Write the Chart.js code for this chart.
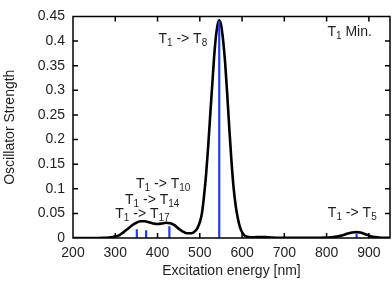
<!DOCTYPE html>
<html>
<head>
<meta charset="utf-8">
<script src="https://cdn.jsdelivr.net/npm/chart.js@4.4.0/dist/chart.umd.min.js"></script>
<style>
  html, body { margin: 0; padding: 0; background: #fff; }
</style>
</head>
<body>
<canvas id="c" width="392" height="282"></canvas>
<script>
// broadened spectrum
var energy = [200, 210, 220, 230, 240, 250, 260, 270, 280, 290,
    300, 310, 320, 330, 340, 350, 360, 370, 380, 390,
    400, 410, 420, 430, 440, 450, 460, 470, 480, 490,
    495, 500, 505, 510, 515, 520, 525, 530, 535, 540,
    545, 550, 555, 560, 565, 570, 575, 580, 585, 590,
    595, 600, 605, 610, 620, 630, 640, 650, 660, 670,
    680, 700, 720, 740, 760, 780, 800, 810, 820, 830,
    840, 850, 860, 870, 880, 890, 900, 910, 920, 930, 940, 950];
var strength = [0, 0, 0, 0, 0, 0, 0, 0.0002, 0.0006, 0.0015,
    0.003, 0.006, 0.012, 0.019, 0.026, 0.031, 0.034, 0.034, 0.032, 0.0295,
    0.0285, 0.0295, 0.031, 0.030, 0.026, 0.019, 0.013, 0.0095, 0.0095, 0.015,
    0.021, 0.032, 0.05, 0.085, 0.13, 0.188, 0.254, 0.318, 0.38, 0.422,
    0.442, 0.434, 0.403, 0.355, 0.29, 0.22, 0.155, 0.102, 0.065, 0.04,
    0.022, 0.012, 0.006, 0.003, 0.0012, 0.0015, 0.002, 0.002, 0.0015, 0.001,
    0.0006, 0.0004, 0.0003, 0.0003, 0.0004, 0.0006, 0.001, 0.0015, 0.0025, 0.004,
    0.006, 0.009, 0.011, 0.012, 0.011, 0.008, 0.005, 0.0025, 0.0012, 0.0006, 0.0003, 0.0002];

// transitions (sticks)
var stickNm = [351, 373, 428, 546, 871];
var stickF = [0.018, 0.0155, 0.024, 0.44, 0.008];

// labels: T1 -> Tn
var noteTo = [8, 10, 14, 17, 5];
var noteX = [402, 349, 323, 300, 803];
var noteY = [0.396, 0.1015, 0.07, 0.041, 0.0425];

var curve = energy.map(function(e, i){ return {x: e, y: strength[i]}; });
var sticks = [];
stickNm.forEach(function(e, i){
    sticks.push({x: e, y: 0}, {x: e, y: stickF[i]}, {x: e, y: null});
});

var FONT = "'Liberation Sans', Arial, sans-serif";
var INK = '#1e1e1e';

function subText(ctx, x, y, parts) {
    // parts: [text, isSub]
    parts.forEach(function(p){
        ctx.font = (p[1] ? 10 : 14) + 'px ' + FONT;
        ctx.fillText(p[0], x, y + (p[1] ? 3 : 0));
        x += ctx.measureText(p[0]).width;
    });
}

var framePlugin = {
    id: 'frame',
    afterDraw: function(chart) {
        var ctx = chart.ctx, a = chart.chartArea;
        var xs = chart.scales.x, ys = chart.scales.y;
        ctx.save();
        ctx.strokeStyle = '#000';
        ctx.lineWidth = 1.5;
        ctx.beginPath();
        ctx.rect(a.left, a.top, a.right - a.left, a.bottom - a.top);
        xs.ticks.forEach(function(t){
            var px = xs.getPixelForValue(t.value);
            ctx.moveTo(px, a.bottom); ctx.lineTo(px, a.bottom - 5);
            ctx.moveTo(px, a.top); ctx.lineTo(px, a.top + 5);
        });
        ys.ticks.forEach(function(t){
            var py = ys.getPixelForValue(t.value);
            ctx.moveTo(a.left, py); ctx.lineTo(a.left + 5, py);
            ctx.moveTo(a.right, py); ctx.lineTo(a.right - 5, py);
        });
        ctx.stroke();

        ctx.fillStyle = INK;
        ctx.textAlign = 'left';
        ctx.textBaseline = 'alphabetic';
        noteTo.forEach(function(n, i){
            subText(ctx, xs.getPixelForValue(noteX[i]), ys.getPixelForValue(noteY[i]),
                [['T', 0], ['1', 1], [' -> T', 0], [String(n), 1]]);
        });
        subText(ctx, xs.getPixelForValue(802), ys.getPixelForValue(0.41),
            [['T', 0], ['1', 1], [' Min.', 0]]);
        ctx.restore();
    }
};

new Chart(document.getElementById('c'), {
    type: 'line',
    data: {
        datasets: [
            {
                data: curve,
                borderColor: '#000',
                borderWidth: 2.6,
                pointRadius: 0,
                cubicInterpolationMode: 'monotone',
                order: 2
            },
            {
                data: sticks,
                borderColor: '#1f3cf5',
                borderWidth: 2.2,
                pointRadius: 0,
                spanGaps: false,
                order: 1
            }
        ]
    },
    options: {
        responsive: false,
        animation: false,
        events: [],
        layout: { padding: { left: 0, right: 2, top: 6, bottom: 0 } },
        plugins: { legend: { display: false }, tooltip: { enabled: false } },
        scales: {
            x: {
                type: 'linear',
                min: 200, max: 950,
                grid: { display: false, drawTicks: false },
                border: { display: false },
                ticks: { stepSize: 100, includeBounds: false, maxRotation: 0, padding: 7,
                    color: INK, font: { family: FONT, size: 14 } },
                title: { display: true, text: 'Excitation energy [nm]', color: INK,
                    font: { family: FONT, size: 14 }, padding: { top: 4, bottom: 2 } },
                afterFit: function(s){ s.height = 44; }
            },
            y: {
                min: 0, max: 0.45,
                grid: { display: false, drawTicks: false },
                border: { display: false },
                ticks: { stepSize: 0.05, padding: 8, color: INK,
                    font: { family: FONT, size: 14 },
                    callback: function(v){ return String(Number(v.toFixed(2))); } },
                title: { display: true, text: 'Oscillator Strength', color: INK,
                    font: { family: FONT, size: 14 }, padding: { top: 2, bottom: 2 } },
                afterFit: function(s){ s.width = 73; }
            }
        }
    },
    plugins: [framePlugin]
});
</script>
</body>
</html>
